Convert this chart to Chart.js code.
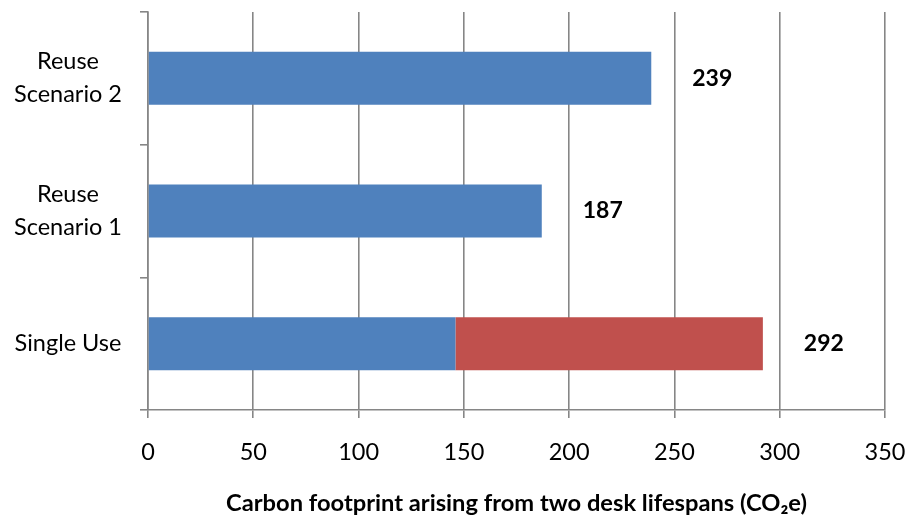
<!DOCTYPE html>
<html>
<head>
<meta charset="utf-8">
<script src="https://cdn.jsdelivr.net/npm/chart.js@4/dist/chart.umd.min.js"></script>
<style>
  html, body { margin: 0; padding: 0; background: #fff; }
  #wrap { width: 908px; height: 522px; }
</style>
</head>
<body>
<div id="wrap"><canvas id="c" width="908" height="522"></canvas></div>
<script>
// ---- data ----
const categories = [["Reuse", "Scenario 2"], ["Reuse", "Scenario 1"], "Single Use"];
const firstLifespan = [239, 187, 146];
const secondLifespan = [0, 0, 146];
const totalLabels = ["239", "187", "292"];
const xTickValues = [0, 50, 100, 150, 200, 250, 300, 350];
const axisTitle = "Carbon footprint arising from two desk lifespans (CO\u2082e)";

const FONT = "Lato, 'Open Sans', sans-serif";

const totalsPlugin = {
  id: 'totals',
  afterDatasetsDraw(chart) {
    const ctx = chart.ctx;
    const meta0 = chart.getDatasetMeta(0);
    const xs = chart.scales.x;
    ctx.save();
    ctx.font = "bold 23px " + FONT;
    ctx.fillStyle = "#000";
    ctx.textAlign = "center";
    ctx.textBaseline = "middle";
    totalLabels.forEach((t, i) => {
      const total = firstLifespan[i] + secondLifespan[i];
      const x = xs.getPixelForValue(total) + 61;
      const y = meta0.data[i].y;
      ctx.fillText(t, x, y);
    });
    ctx.restore();
  }
};

new Chart(document.getElementById('c'), {
  type: 'bar',
  data: {
    labels: categories,
    datasets: [
      { label: 'First lifespan', data: firstLifespan, backgroundColor: '#4F81BD',
        borderWidth: 0, barPercentage: 0.4, categoryPercentage: 1.0 },
      { label: 'Second lifespan', data: secondLifespan, backgroundColor: '#C0504D',
        borderWidth: 0, barPercentage: 0.4, categoryPercentage: 1.0 }
    ]
  },
  options: {
    indexAxis: 'y',
    responsive: false,
    animation: false,
    layout: { padding: { top: 12, right: 23, bottom: 0, left: 0 } },
    plugins: { legend: { display: false }, tooltip: { enabled: false } },
    scales: {
      x: {
        stacked: true,
        min: 0, max: 350,
        afterBuildTicks(scale) { scale.ticks = xTickValues.map(v => ({ value: v })); },
        afterFit(scale) { scale.height = 112; scale.paddingLeft = 0; scale.paddingRight = 0; },
        grid: { color: '#868686', lineWidth: 1.6, drawTicks: true, tickLength: 8, tickColor: '#868686' },
        border: { color: '#868686', width: 1.6 },
        ticks: { color: '#000', font: { family: FONT, size: 23.5 }, padding: 20 },
        title: { display: true, text: axisTitle, color: '#000',
          font: { family: FONT, size: 23.7, weight: 'bold' }, padding: { top: 0, bottom: 4 } }
      },
      y: {
        stacked: true,
        afterFit(scale) { scale.width = 148; scale.paddingTop = 0; scale.paddingBottom = 0; },
        grid: { offset: true, drawOnChartArea: false, drawTicks: true, tickLength: 8, tickColor: '#868686', lineWidth: 1.6 },
        border: { color: '#868686', width: 1.6 },
        ticks: { color: '#000', font: { family: FONT, size: 23.5, lineHeight: 1.4 }, padding: 18, crossAlign: 'center' }
      }
    }
  },
  plugins: [totalsPlugin]
});
</script>
</body>
</html>
